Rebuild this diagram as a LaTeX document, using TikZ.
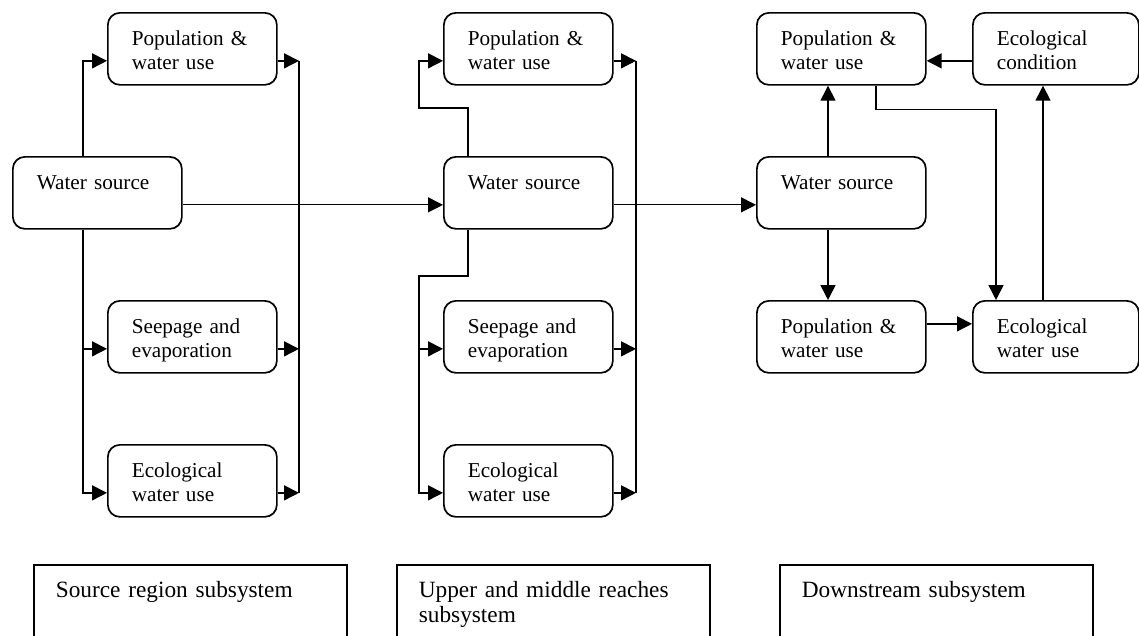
\documentclass[tikz,border=0pt]{standalone}
\usepackage{fontspec}
\setmainfont{Liberation Serif}
\usetikzlibrary{arrows.meta}
\begin{document}
\begin{tikzpicture}[x=1pt,y=-1pt,
  box/.style={draw, line width=1.7pt, rounded corners=12pt, anchor=north west,
    align=left, text width=121pt, inner xsep=24pt, inner ysep=0pt,
    text height=33pt, text depth=39pt, minimum width=169pt, minimum height=72pt,
    font=\fontsize{21.2}{24}\selectfont},
  rbox/.style={box, text width=118pt, minimum width=166pt},
  capbox/.style={draw, line width=1.7pt, anchor=north west, align=left,
    text width=269pt, inner xsep=22pt, inner ysep=0pt,
    text height=33pt, text depth=67pt, minimum width=313pt,
    font=\fontsize{23.3}{25}\selectfont},
  arr/.style={line width=1.5pt, -{Triangle[length=15pt,width=15pt]}},
  ln/.style={line width=1.5pt}]
\clip (0,0) rectangle (1139,635);
\fill[white] (0,0) rectangle (1139,635);

% ---- Source region ----
\node[box] (p1) at (107,12) {Population \&\\water use};
\node[box] (w1) at (12,156) {Water source};
\node[box] (s1) at (107,300) {Seepage and\\evaporation};
\node[box] (e1) at (107,444) {Ecological\\water use};
\coordinate (aL) at (83,0);
\coordinate (aR) at (299,0);

% ---- Upper and middle reaches ----
\node[box] (p2) at (443,12) {Population \&\\water use};
\node[box] (w2) at (443,156) {Water source};
\node[box] (s2) at (443,300) {Seepage and\\evaporation};
\node[box] (e2) at (443,444) {Ecological\\water use};
\coordinate (bR) at (636,0);
\coordinate (m1) at (419,108);
\coordinate (m2) at (419,276);

% ---- Downstream ----
\node[box] (p3) at (756,12) {Population \&\\water use};
\node[rbox] (ec) at (972,12) {Ecological\\condition};
\node[box] (w3) at (756,156) {Water source};
\node[box] (p4) at (756,300) {Population \&\\water use};
\node[rbox] (e3) at (972,300) {Ecological\\water use};

% ---- captions ----
\node[capbox] (c1) at (33,564) {Source region subsystem};
\node[capbox] (c2) at (396,564) {Upper and middle reaches\\subsystem};
\node[capbox] (c3) at (779,564) {Downstream subsystem};

% ---- connectors: source region ----
\draw[arr] (w1.north -| aL) |- ([yshift=-12pt]p1.west);
\draw[arr] (w1.south -| aL) |- ([yshift=-12pt]e1.west);
\draw[arr] ([yshift=-12pt]s1.west -| aL) -- ([yshift=-12pt]s1.west);
\draw[arr] ([yshift=-12pt]p1.east) -- ([yshift=-12pt]p1.east -| aR);
\draw[arr] ([yshift=-12pt]s1.east) -- ([yshift=-12pt]s1.east -| aR);
\draw[arr] ([yshift=-12pt]e1.east) -- ([yshift=-12pt]e1.east -| aR);
\draw[ln] ([yshift=-12pt]p1.east -| aR) -- ([yshift=-12pt]e1.east -| aR);
\draw[arr, line width=1.2pt] ([yshift=-12pt]w1.east) -- ([yshift=-12pt]w2.west);

% ---- connectors: upper and middle ----
\draw[arr] ([xshift=25pt]w2.north west) |- (m1) |- ([yshift=-12pt]p2.west);
\draw[arr] ([xshift=25pt]w2.south west) |- (m2) |- ([yshift=-12pt]e2.west);
\draw[arr] ([yshift=-12pt]s2.west -| m2) -- ([yshift=-12pt]s2.west);
\draw[arr] ([yshift=-12pt]p2.east) -- ([yshift=-12pt]p2.east -| bR);
\draw[arr] ([yshift=-12pt]s2.east) -- ([yshift=-12pt]s2.east -| bR);
\draw[arr] ([yshift=-12pt]e2.east) -- ([yshift=-12pt]e2.east -| bR);
\draw[ln] ([yshift=-12pt]p2.east -| bR) -- ([yshift=-12pt]e2.east -| bR);
\draw[arr, line width=1.2pt] ([yshift=-12pt]w2.east) -- ([yshift=-12pt]w3.west);

% ---- connectors: downstream ----
\draw[arr] ([xshift=72pt]w3.north west) -- ([xshift=72pt]p3.south west);
\draw[arr] ([xshift=72pt]w3.south west) -- ([xshift=72pt]p4.north west);
\draw[arr] ([yshift=13pt]p4.east) -- ([yshift=13pt]e3.west);
\draw[arr] ([yshift=-12pt]ec.west) -- ([yshift=-12pt]p3.east);
\draw[arr] ([xshift=120pt]p3.south west) -- ++(0,24) -| ([xshift=24pt]e3.north west);
\draw[arr] ([xshift=71pt]e3.north west) -- ([xshift=71pt]ec.south west);
\end{tikzpicture}
\end{document}
